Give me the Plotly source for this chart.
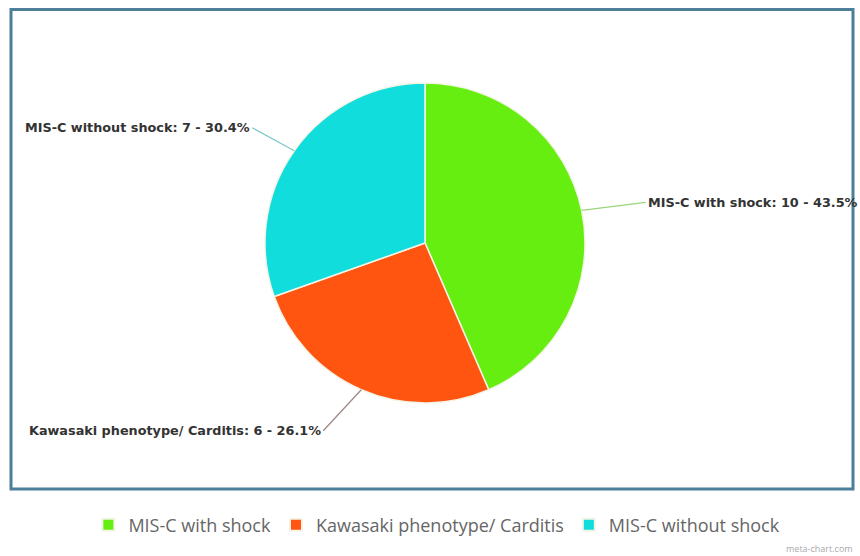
import math
import plotly.graph_objects as go

# Case counts per presentation group
categories = ["MIS-C with shock", "Kawasaki phenotype/ Carditis", "MIS-C without shock"]
counts = [10, 6, 7]
slice_colors = ["#66EE11", "#FF5511", "#11DDDD"]
connector_colors = ["#9ad67a", "#a08a88", "#7ccac4"]

W, H = 860, 556
CX, CY, R = 425, 243, 160  # pie centre and radius, in pixels

# label placement: pixel offset of the label anchor from the slice edge, and its anchor side
label_offsets = [(64, -8, "left"), (-38, 41, "right"), (-42, -23, "right")]

fig = go.Figure()
fig.add_trace(go.Pie(
    labels=categories,
    values=counts,
    sort=False,
    direction="clockwise",
    rotation=0,
    textinfo="none",
    hoverinfo="label+value+percent",
    marker=dict(colors=slice_colors, line=dict(color="#f4f4e6", width=1.5)),
    domain=dict(x=[(CX - R) / W, (CX + R) / W], y=[(H - CY - R) / H, (H - CY + R) / H]),
))

# outside labels with connectors, placed at each slice's mid angle
total = sum(counts)
cum = 0
for name, val, col, (dx, dy, anchor) in zip(categories, counts, connector_colors, label_offsets):
    mid = (cum + val / 2) / total * 2 * math.pi
    cum += val
    px = CX + R * math.sin(mid)
    py = CY - R * math.cos(mid)
    pct = val / total * 100
    fig.add_annotation(
        x=px / W, y=1 - py / H, xref="paper", yref="paper",
        ax=dx, ay=dy, axref="pixel", ayref="pixel",
        text=f"<b>{name}: {val} - {pct:.1f}%</b>",
        showarrow=True, arrowhead=0, arrowwidth=1.3, arrowcolor=col,
        xanchor=anchor, yanchor="middle",
        font=dict(family="DejaVu Sans, Verdana, sans-serif", size=12.8, color="#333333"),
        standoff=0, startstandoff=0,
    )

# framing box around the plot area
fig.add_shape(type="rect", xref="paper", yref="paper",
              x0=11 / W, x1=853 / W, y0=1 - 489 / H, y1=1 - 9.5 / H,
              line=dict(color="#4d7f9a", width=3), layer="below")

fig.add_annotation(x=855 / W, y=1 - 548 / H, xref="paper", yref="paper",
                   text="meta-chart.com", showarrow=False, xanchor="right", yanchor="middle",
                   font=dict(family="Open Sans, sans-serif", size=9, color="#aaaaaa"))

fig.update_layout(
    width=W, height=H,
    margin=dict(l=0, r=0, t=0, b=0),
    paper_bgcolor="white",
    plot_bgcolor="white",
    showlegend=True,
    legend=dict(orientation="h", x=0.508, xanchor="center", y=1 - 525 / H, yanchor="middle",
                font=dict(family="Open Sans, sans-serif", size=18, color="#666666"),
                itemsizing="constant"),
)

fig.write_html("out.html")
